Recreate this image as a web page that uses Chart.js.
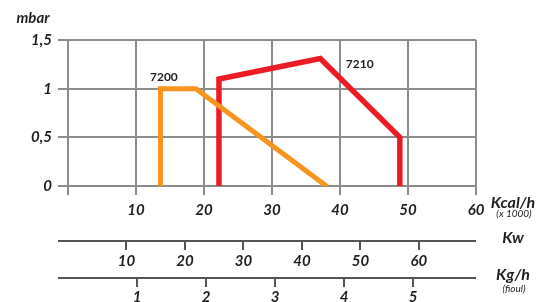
<!DOCTYPE html>
<html>
<head>
<meta charset="utf-8">
<script src="https://cdn.jsdelivr.net/npm/chart.js@4.4.1/dist/chart.umd.min.js"></script>
<style>
  html, body { margin: 0; padding: 0; background: #fff; }
  #wrap { width: 536px; height: 302px; }
</style>
</head>
<body>
<div id="wrap"><canvas id="chart" width="536" height="302"></canvas></div>
<script>
// data
const kcalTicks = [0, 10, 20, 30, 40, 50, 60];
const kwTicks = [10, 20, 30, 40, 50, 60];
const kgTicks = [1, 2, 3, 4, 5];
const mbarTicks = [0, 0.5, 1, 1.5];

const b7200x = [13.6, 13.6, 18.8, 38.0];
const b7200y = [0, 1, 1, 0];
const b7210x = [22.2, 22.2, 37.1, 48.8, 48.8];
const b7210y = [0, 1.1, 1.31, 0.5, 0];

const kcalPerKw = 0.86;   // 1 kW = 860 kcal/h
const kcalPerKg = 10.15;  // 1 kg/h fioul ~ 10 150 kcal/h

const FONT = 'Lato, "Noto Sans", sans-serif';
const GRID = '#8c8c8c';
const AXIS = '#555555';
const TEXT = '#1e1e1e';
const tickFont = { family: FONT, size: 15, style: 'italic', weight: 'bold' };

const toPts = (xs, ys) => xs.map((x, i) => ({ x: x, y: ys[i] }));
const fixTicks = (vals) => (scale) => { scale.ticks = vals.map(v => ({ value: v })); };

// text that isn't part of a scale: unit names and burner names
const labelsPlugin = {
  id: 'labels',
  afterDraw(chart) {
    const ctx = chart.ctx;
    const { x, y, kw, kg } = chart.scales;
    const area = chart.chartArea;
    ctx.save();

    // extra axis lines, run from the tick stubs on the left
    ctx.strokeStyle = AXIS;
    ctx.lineWidth = 2;
    [kw, kg].forEach(s => {
      ctx.beginPath();
      ctx.moveTo(area.left - 10, s.top);
      ctx.lineTo(area.right, s.top);
      ctx.stroke();
    });

    ctx.fillStyle = TEXT;
    ctx.textAlign = 'center';
    ctx.textBaseline = 'middle';
    ctx.font = 'italic bold 15px ' + FONT;
    ctx.fillText('mbar', 33, 18);
    ctx.font = 'italic bold 16px ' + FONT;
    ctx.fillText('Kcal/h', 513, 203);
    ctx.fillText('Kw', 513, 238);
    ctx.fillText('Kg/h', 513, 275);
    ctx.font = 'italic 10px ' + FONT;
    ctx.fillText('(x 1000)', 514, 214);
    ctx.fillText('(fioul)', 514, 289);

    ctx.font = 'bold 12px ' + FONT;
    ctx.fillText('7200', x.getPixelForValue(14.1), y.getPixelForValue(1.12));
    ctx.fillText('7210', x.getPixelForValue(42.9), y.getPixelForValue(1.255));
    ctx.restore();
  }
};

new Chart(document.getElementById('chart'), {
  type: 'scatter',
  data: {
    datasets: [{
      label: '7200',
      data: toPts(b7200x, b7200y),
      showLine: true,
      borderColor: '#f7941d',
      borderWidth: 5,
      borderCapStyle: 'round',
      borderJoinStyle: 'miter',
      pointRadius: 0,
      tension: 0,
    }, {
      label: '7210',
      data: toPts(b7210x, b7210y),
      showLine: true,
      borderColor: '#ed1c24',
      borderWidth: 5.5,
      borderCapStyle: 'round',
      borderJoinStyle: 'miter',
      pointRadius: 0,
      tension: 0,
    }]
  },
  options: {
    responsive: false,
    animation: false,
    layout: { padding: { left: 0, right: 60, top: 40, bottom: 0 } },
    plugins: { legend: { display: false }, tooltip: { enabled: false } },
    scales: {
      x: {
        type: 'linear', position: 'bottom', min: 0, max: 60,
        afterBuildTicks: fixTicks(kcalTicks),
        afterFit: (s) => { s.height = 55; },
        grid: { color: GRID, lineWidth: 2, tickLength: 9 },
        border: { display: false },
        ticks: {
          color: TEXT, padding: 6, maxRotation: 0, font: tickFont,
          callback: (v) => v === 0 ? '' : v,
        },
      },
      kw: {
        type: 'linear', position: 'bottom', min: 0, max: 60 / kcalPerKw,
        afterBuildTicks: fixTicks(kwTicks),
        afterFit: (s) => { s.height = 37; },
        grid: { drawOnChartArea: false, color: AXIS, lineWidth: 2, tickLength: 9 },
        border: { display: false },
        ticks: { color: TEXT, padding: 2, maxRotation: 0, font: tickFont },
      },
      kg: {
        type: 'linear', position: 'bottom', min: 0, max: 60 / kcalPerKg,
        afterBuildTicks: fixTicks(kgTicks),
        afterFit: (s) => { s.height = 24; },
        grid: { drawOnChartArea: false, color: AXIS, lineWidth: 2, tickLength: 9 },
        border: { display: false },
        ticks: { color: TEXT, padding: 1, maxRotation: 0, font: tickFont },
      },
      y: {
        type: 'linear', min: 0, max: 1.5,
        afterBuildTicks: fixTicks(mbarTicks),
        afterFit: (s) => { s.width = 68; },
        grid: { color: GRID, lineWidth: 2, tickLength: 10 },
        border: { display: false },
        ticks: {
          color: TEXT, padding: 6, font: tickFont,
          callback: (v) => String(v).replace('.', ','),
        },
      },
    }
  },
  plugins: [labelsPlugin]
});
</script>
</body>
</html>
